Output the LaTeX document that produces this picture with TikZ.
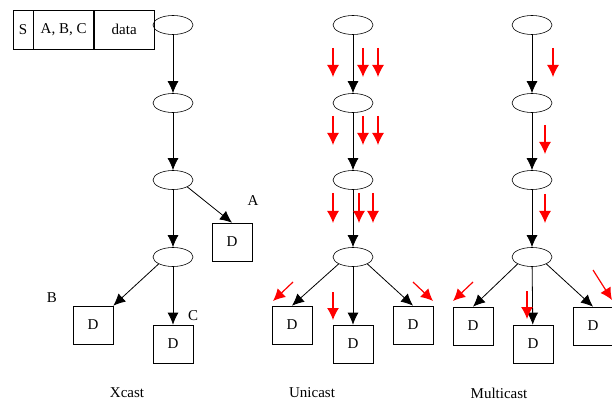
\documentclass[tikz,border=0pt]{standalone}
\usepackage{fontspec}
\setmainfont{Liberation Serif}
\usetikzlibrary{shapes.geometric,arrows.meta}
\tikzset{
  router/.style={draw, semithick, ellipse, minimum width=40pt, minimum height=19pt, inner sep=0pt},
  dest/.style={draw, semithick, minimum width=40pt, minimum height=38pt, inner sep=0pt},
  hdr/.style={draw, semithick, minimum height=39pt, inner sep=0pt},
  link/.style={-{Latex[length=12pt,width=11pt]}, thick},
  pkt/.style={-{Latex[length=12pt,width=12pt]}, red, line width=1.2pt}
}
\begin{document}
\begin{tikzpicture}[x=1pt, y=-1pt, font=\fontsize{15}{17}\selectfont]
\useasboundingbox (0,0) rectangle (612,403);

\node[hdr, minimum width=20pt] (s) at (23,29.5) {S};
\node[hdr, minimum width=60pt, anchor=west] (abc) at (s.east) {A, B, C};
\node[hdr, minimum width=60pt, anchor=west] (data) at (abc.east) {data};

% Xcast
\node[router] (x1) at (173,25) {};
\node[router] (x2) at (173,103) {};
\node[router] (x3) at (173,180) {};
\node[router] (x4) at (173,257) {};
\node[dest] (xa) at (232,242) {D};
\node[dest] (xb) at (93,325) {D};
\node[dest] (xc) at (173,344) {D};
\node (la) at (253,201) {A};
\node (lb) at (52,298) {B};
\node (lc) at (193,316) {C};
\draw[link] (x1) -- (x2);
\draw[link] (x2) -- (x3);
\draw[link] (x3) -- (x4);
\draw[link] (x3.south east) -- (xa.north);
\draw[link] (x4.south west) -- (xb.north east);
\draw[link] (x4) -- (xc);
\node (tx) at (127,393) {Xcast};

% Unicast
\node[router] (u1) at (353,25) {};
\node[router] (u2) at (353,103) {};
\node[router] (u3) at (353,180) {};
\node[router] (u4) at (353,257) {};
\node[dest] (ul) at (292,325) {D};
\node[dest] (um) at (353,344) {D};
\node[dest] (ur) at (413,325) {D};
\draw[link] (u1) -- (u2);
\draw[link] (u2) -- (u3);
\draw[link] (u3) -- (u4);
\draw[link] (u4.south west) -- (ul.north);
\draw[link] (u4) -- (um);
\draw[link] (u4.south east) -- (ur.north);
\foreach \x in {333,363,378}
{
    \draw[pkt] (\x,48) -- (\x,77);
    \draw[pkt] (\x,116) -- (\x,145);
}
\foreach \x in {333,359,373}
    \draw[pkt] (\x,193) -- (\x,223);
\draw[pkt] (293,282) -- (273,301);
\draw[pkt] (333,292) -- (333,320);
\draw[pkt] (413,282) -- (433,301);
\node (tu) at (312,393) {Unicast};

% Multicast
\node[router] (m1) at (532,25) {};
\node[router] (m2) at (532,103) {};
\node[router] (m3) at (532,180) {};
\node[router] (m4) at (532,257) {};
\node[dest] (ml) at (473,326) {D};
\node[dest] (mm) at (533,344) {D};
\node[dest] (mr) at (593,326) {D};
\draw[link] (m1) -- (m2);
\draw[link] (m2) -- (m3);
\draw[link] (m3) -- (m4);
\draw[link] (m4.south west) -- (ml.north);
\draw[link] (m4) -- (mm);
\draw[link] (m4.south east) -- (mr.north);
\draw[pkt] (553,48) -- (553,77);
\draw[pkt] (545,125) -- (545,154);
\draw[pkt] (545,194) -- (545,223);
\draw[pkt] (473,282) -- (453,301);
\draw[pkt] (527,291) -- (527,319);
\draw[pkt] (593,270) -- (612,300);
\node (tm) at (499,393) {Multicast};
\end{tikzpicture}
\end{document}
